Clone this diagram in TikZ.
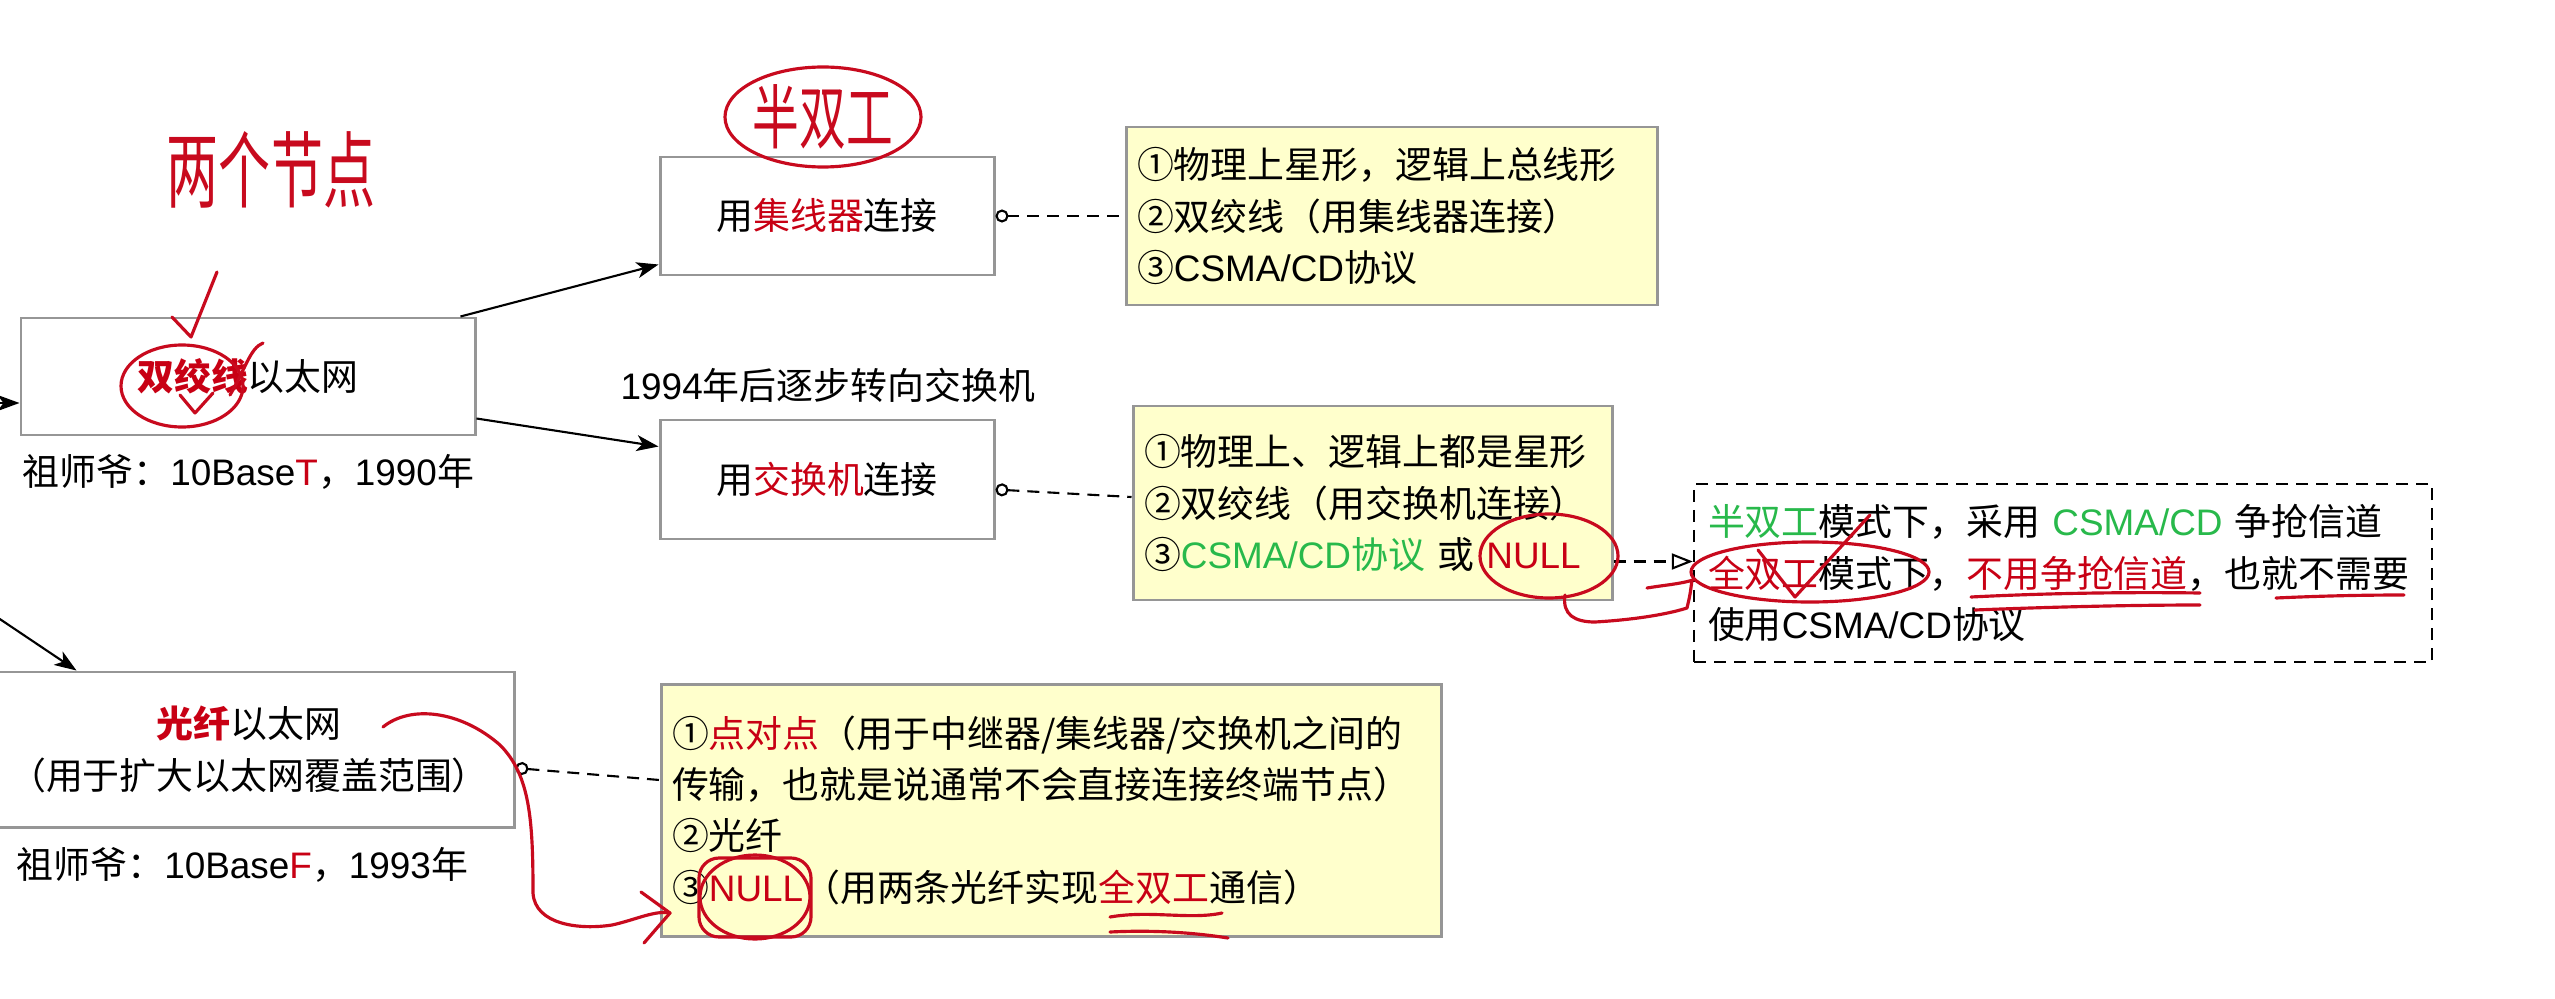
\documentclass[tikz,border=0pt]{standalone}
\usepackage{fontspec}
\setmainfont{Noto Sans CJK SC}
\newfontfamily\latinfont{Liberation Sans}
\usepackage{xcolor}
\usetikzlibrary{arrows.meta,positioning,calc}

\definecolor{boxgray}{RGB}{150,150,150}
\definecolor{noteyellow}{RGB}{255,255,204}
\definecolor{keyred}{RGB}{200,0,20}
\definecolor{keygreen}{RGB}{40,185,75}
\definecolor{inkred}{RGB}{200,10,30}
\newcommand{\lat}[1]{{\latinfont #1}}
\newcommand{\kr}[1]{\textcolor{keyred}{#1}}
\newcommand{\kg}[1]{\textcolor{keygreen}{#1}}

\tikzset{
  base/.style={font=\fontsize{10.5pt}{14.6pt}\selectfont},
  box/.style={base, draw=boxgray, line width=0.85pt, fill=white, inner sep=0pt, align=center},
  note/.style={base, draw=boxgray, line width=0.85pt, fill=noteyellow, inner xsep=1.1mm, inner ysep=0pt, align=left},
  dashbox/.style={base, draw=black, line width=0.7pt, dash pattern=on 1.2mm off 0.8mm, fill=white, inner xsep=1.4mm, inner ysep=0pt, align=left},
  arr/.style={line width=0.6pt, -{Stealth[length=2.2mm,width=1.6mm,inset=0.6mm]}},
  link/.style={line width=0.6pt, dash pattern=on 1.2mm off 0.8mm, {Circle[open,length=1.3mm]}-},
  hint/.style={line width=0.6pt, dash pattern=on 1.2mm off 0.8mm, -{Triangle[open,length=2.1mm,width=1.6mm]}},
  ink/.style={draw=inkred, line width=0.9pt, line cap=round, line join=round},
  hand/.style={text=inkred, inner sep=0pt}
}

\begin{document}
\begin{tikzpicture}[scale=1.0]
  \useasboundingbox (0,0) rectangle (25.55,-9.99);
  \fill[white] (0,0) rectangle (25.55,-9.99);
  \clip (0,0) rectangle (25.55,-9.99);

  \node[box, minimum width=4.54cm, minimum height=1.17cm] (tp) at (2.48,-3.765) {\textbf{\kr{双绞线}}以太网};
  \node[base, anchor=west, inner sep=0pt] (tplabel) at (0.22,-4.72) {祖师爷：\lat{10Base\kr{T}}，\lat{1990}年};
  \node[box, minimum width=5.30cm, minimum height=1.55cm] (fiber) at (2.49,-7.495) {\textbf{\kr{光纤}}以太网\\（用于扩大以太网覆盖范围）};
  \node[base, anchor=west, inner sep=0pt] (fiberlabel) at (0.16,-8.65) {祖师爷：\lat{10Base\kr{F}}，\lat{1993}年};

  \node[box, minimum width=3.34cm, minimum height=1.18cm] (hub) at (8.27,-2.16) {用\kr{集线器}连接};
  \node[box, minimum width=3.34cm, minimum height=1.19cm] (sw) at (8.27,-4.795) {用\kr{交换机}连接};
  \node[base, anchor=west, inner sep=0pt] (turn) at (6.20,-3.85) {\lat{1994}年后逐步转向交换机};

  \node[note, text width=5.09cm, minimum height=1.78cm] (hubnote) at (13.915,-2.16) {①物理上星形，逻辑上总线形\\②双绞线（用集线器连接）\\③\lat{CSMA/CD}协议};
  \node[note, text width=4.57cm, minimum height=1.94cm] (swnote) at (13.725,-5.03) {①物理上、逻辑上都是星形\\②双绞线（用交换机连接）\\③\kg{\lat{CSMA/CD}协议} 或 \kr{\lat{NULL}}};
  \node[note, text width=7.58cm, minimum height=2.52cm] (fibernote) at (10.51,-8.10) {①\kr{点对点}（用于中继器/集线器/交换机之间的\\传输，也就是说通常不会直接连接终端节点）\\②光纤\\③\kr{\lat{NULL}}（用两条光纤实现\kr{全双工}通信）};
  \node[dashbox, text width=7.10cm, minimum height=1.78cm] (modebox) at (20.63,-5.73) {\kg{半双工}模式下，采用 \kg{\lat{CSMA/CD}} 争抢信道\\\kr{全双工}模式下，\kr{不用争抢信道}，也就不需要\\使用\lat{CSMA/CD}协议};

  \coordinate (rootT) at (-0.3,-4.03);
  \coordinate (rootF) at (-0.3,-5.99);
  \draw[arr] (rootT) -- (rootT -| tp.west);
  \draw[arr] (rootF) -- ([xshift=9.4mm]fiber.north west);
  \draw[arr] ([xshift=-1.6mm]tp.north east) -- ([yshift=1.2mm]hub.south west);
  \draw[arr] ([yshift=1.8mm]tp.south east) -- ([yshift=-2.8mm]sw.north west);

  \draw[link] (hub.east) -- (hubnote.west);
  \draw[link] ([yshift=-1mm]sw.east) -- ([yshift=0.6mm]swnote.west);
  \draw[link] ([yshift=-1.85mm]fiber.east) -- ([yshift=3mm]fibernote.west);
  \draw[hint] ([yshift=4mm]swnote.south east) -- ([yshift=4mm]swnote.south east -| modebox.west);

  % pen marks
  \node[hand] (twonodes) at (2.71,-1.70) {\scalebox{1}[1.6]{\fontsize{14.8pt}{15pt}\selectfont 两个节点}};
  \node[hand] (halfduplex) at (8.23,-1.17) {\scalebox{1}[1.5]{\fontsize{13.3pt}{14pt}\selectfont 半双工}};
  \draw[ink] (halfduplex) ellipse [x radius=0.98, y radius=0.50];
  \draw[ink] (1.72,-3.17) -- (1.91,-3.37) -- (2.17,-2.72);
  \draw[ink] (1.82,-3.86) ellipse [x radius=0.61, y radius=0.41];
  \draw[ink] (2.30,-3.95) .. controls (2.45,-3.70) and (2.50,-3.48) .. (2.63,-3.43);
  \draw[ink] (1.80,-3.95) -- (1.95,-4.13) -- (2.13,-3.93);
  \draw[ink] (15.49,-5.56) ellipse [x radius=0.69, y radius=0.42];
  \draw[ink] (15.65,-5.95) .. controls (15.62,-6.15) and (15.75,-6.22) .. (15.95,-6.22) .. controls (16.30,-6.20) and (16.65,-6.15) .. (16.87,-6.08) .. controls (16.90,-5.95) .. (16.92,-5.80);
  \draw[ink] (16.47,-5.88) .. controls (16.65,-5.85) and (16.80,-5.84) .. (16.93,-5.80);
  \draw[ink] (18.10,-5.72) ellipse [x radius=1.19, y radius=0.30];
  \draw[ink] (17.58,-5.50) -- (17.95,-5.97) -- (18.70,-5.15);
  \draw[ink] (19.71,-5.97) .. controls (20.50,-5.93) and (21.30,-5.92) .. (22.00,-5.93);
  \draw[ink] (19.75,-6.10) .. controls (20.50,-6.07) and (21.30,-6.05) .. (22.00,-6.05);
  \draw[ink] (22.76,-5.98) .. controls (23.20,-5.96) and (23.60,-5.95) .. (24.04,-5.95);
  \draw[ink] (3.83,-7.27) .. controls (4.10,-7.05) and (4.60,-7.10) .. (5.00,-7.45) .. controls (5.30,-7.75) and (5.33,-8.20) .. (5.33,-8.93) .. controls (5.35,-9.25) and (5.80,-9.30) .. (6.12,-9.25) .. controls (6.35,-9.20) and (6.55,-9.10) .. (6.70,-9.13);
  \draw[ink] (6.41,-8.92) -- (6.70,-9.13) -- (6.44,-9.43);
  \draw[ink, rounded corners=2mm] (6.99,-8.58) rectangle (8.11,-9.37);
  \draw[ink] (7.55,-8.97) ellipse [x radius=0.55, y radius=0.42];
  \draw[ink] (11.10,-9.17) .. controls (11.50,-9.10) and (11.90,-9.20) .. (12.22,-9.13);
  \draw[ink] (11.10,-9.32) .. controls (11.50,-9.30) and (11.90,-9.32) .. (12.28,-9.38);
\end{tikzpicture}
\end{document}
